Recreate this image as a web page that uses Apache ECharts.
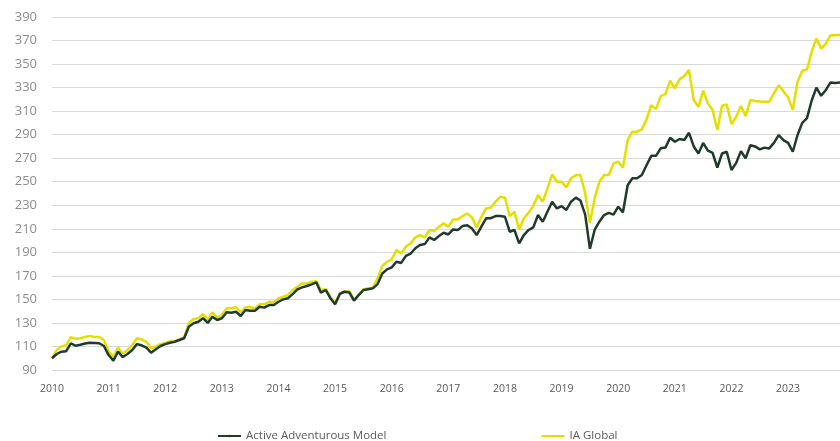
<!DOCTYPE html>
<html>
<head>
<meta charset="utf-8">
<script src="https://cdn.jsdelivr.net/npm/echarts@6/dist/echarts.min.js"></script>
<style>
  html, body { margin: 0; padding: 0; background: #fff; }
  #chart { width: 840px; height: 441px; }
</style>
</head>
<body>
<div id="chart"></div>
<script>
var years = ['2010', '2011', '2012', '2013', '2014', '2015', '2016', '2017', '2018', '2019', '2020', '2021', '2022', '2023'];

var activeAdventurous = [
    100, 103.6, 105.6, 106, 112.7, 110.6, 111.5, 112.5, 113.2, 113, 112.7, 110.4,
    102.7, 98, 105.6, 101, 103.6, 107, 112, 111, 109, 104.7, 107.6, 110.4,
    112, 113.2, 114, 115.5, 117, 126.8, 129.7, 131, 134, 130, 135.3, 132.5,
    134, 139, 138.7, 139.5, 135.9, 141, 140.4, 140.4, 143.8, 143, 145.2, 145.2,
    148, 150, 151, 154.5, 158.5, 160.2, 161.4, 162.8, 164.5, 155.7, 158, 151,
    146, 154.6, 156.5, 155.9, 148.9, 153.7, 158, 158.7, 159.4, 163, 172, 175.5,
    177.2, 182, 181, 187, 189, 193.4, 196.2, 197, 202.7, 200.5, 203.8, 206.6,
    205.2, 209.5, 209, 212.3, 213, 210.3, 204.7, 211.8, 218.9, 219, 220.8, 220.8,
    220.2, 207.5, 209, 197.6, 204.7, 209, 211.2, 221.7, 216, 224.5, 233, 227.3,
    229.3, 226, 233, 236.5, 234, 222, 193, 209, 216, 221.7, 223.6, 222,
    228.8, 224, 247, 253, 253, 255.7, 264, 272, 272, 278.4, 279, 287.4,
    284, 286.3, 285.5, 291.6, 280, 274, 283, 276.5, 274.6, 262, 274, 275.5,
    260, 266, 276, 270, 281, 280, 277.5, 279, 278.3, 283, 289.7, 285.4,
    283, 275.5, 289.7, 300, 304, 319, 330, 323, 328, 334.4, 334, 334.4
];

var iaGlobal = [
    100, 107, 110, 111, 118, 116.5, 117, 118, 119, 118, 118, 115.5,
    105.6, 101.3, 109, 104, 107, 111, 117, 116, 114, 108.4, 110, 112,
    113, 114.6, 114.6, 116, 117.6, 129.7, 133.3, 134, 137.6, 132.5, 139, 134.8,
    136.7, 142.4, 142.4, 143.3, 139, 143.3, 143.3, 142.4, 145.8, 145.8, 148, 147.5,
    151, 152.3, 153.7, 158, 160.8, 163.6, 163.6, 165, 165.5, 158, 158.7, 152,
    146.6, 155, 157, 157, 150, 154, 158.5, 159.4, 160, 168, 178.4, 182,
    184, 192, 189, 195, 197.6, 202.7, 204.7, 202.7, 209, 208, 211.8, 214.6,
    211.8, 218, 218, 220.8, 223, 219.7, 211.2, 220.2, 227.3, 228, 233, 237.2,
    236.4, 220.8, 224.5, 209.5, 218.9, 223.6, 229.3, 238.7, 233, 244.4, 256.3, 250,
    250, 245.2, 252.9, 255.5, 255.7, 240, 215, 235.8, 250, 255.7, 255.7, 265.6,
    267, 262, 285.4, 292.5, 292.5, 294.5, 303, 315, 311.7, 322.8, 324.5, 335.8,
    329.3, 337, 339.8, 345, 319.4, 313.7, 327.3, 316.6, 310.9, 294, 314.6, 315.7,
    299, 305.2, 314.3, 305.8, 319.4, 318.6, 318.2, 318, 318, 325, 332, 327,
    321.7, 310.9, 335, 344.3, 345.4, 360.4, 371.7, 363.2, 367.4, 374.5, 374.5, 375
];

// one category per month, labelled by year
var months = [];
years.forEach(function(y) {
    for (var m = 1; m <= 12; m++) {
        months.push(y + '-' + (m < 10 ? '0' + m : m));
    }
});

var myChart = echarts.init(document.getElementById('chart'));

option = {
    animation: false,
    textStyle: {
        fontFamily: 'Open Sans'
    },
    grid: {
        left: 52,
        right: 0,
        top: 17,
        bottom: 71
    },
    legend: {
        left: 212,
        top: 425,
        itemWidth: 23,
        itemHeight: 3,
        itemGap: 154,
        textStyle: {
            color: '#595959',
            fontSize: 11.5,
            fontFamily: 'Open Sans'
        },
        data: ['Active Adventurous Model', 'IA Global']
    },
    xAxis: {
        type: 'category',
        data: months,
        boundaryGap: false,
        axisLine: { show: false },
        axisTick: { show: false },
        axisLabel: {
            color: '#595959',
            fontSize: 10.5,
            margin: 14,
            interval: function(idx) { return idx % 12 === 0; },
            formatter: function(v) { return v.slice(0, 4); }
        },
        splitLine: { show: false }
    },
    yAxis: {
        type: 'value',
        min: 90,
        max: 390,
        interval: 20,
        axisLine: { show: false },
        axisTick: { show: false },
        axisLabel: {
            color: '#8c8c8c',
            fontSize: 13,
            margin: 15
        },
        splitLine: {
            lineStyle: { color: '#d9d9d9', width: 1 }
        }
    },
    series: [{
        name: 'Active Adventurous Model',
        type: 'line',
        symbol: 'none',
        data: activeAdventurous,
        color: '#1f3b2c',
        lineStyle: { width: 2.5, color: '#1f3b2c' },
        z: 3
    }, {
        name: 'IA Global',
        type: 'line',
        symbol: 'none',
        data: iaGlobal,
        color: '#e5df00',
        lineStyle: { width: 2.5, color: '#e5df00' },
        z: 2
    }]
};
myChart.setOption(option);
</script>
</body>
</html>
